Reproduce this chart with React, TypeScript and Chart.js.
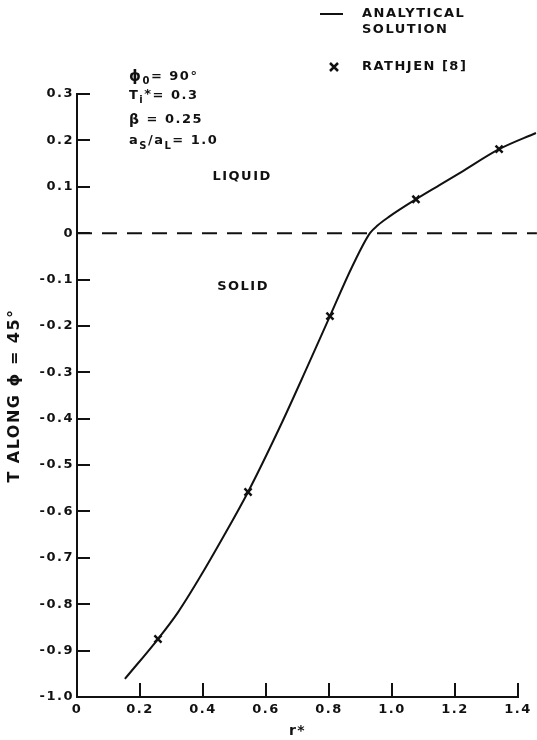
import React, { useEffect, useRef } from 'react';
import { Chart, registerables } from 'chart.js';

Chart.register(...registerables);

// ---- data ----
const curveR = [0.152, 0.257, 0.32, 0.39, 0.46, 0.543, 0.644, 0.73, 0.803, 0.873, 0.93, 0.955, 0.99, 1.076, 1.152, 1.216, 1.34, 1.457];
const curveT = [-0.961, -0.875, -0.818, -0.742, -0.66, -0.558, -0.418, -0.29, -0.179, -0.073, 0.0, 0.017, 0.035, 0.073, 0.104, 0.13, 0.181, 0.216];
const rathjenR = [0.257, 0.543, 0.803, 1.076, 1.34];
const rathjenT = [-0.875, -0.558, -0.179, 0.073, 0.181];
const interfaceR = [0, 1.46];
const interfaceT = [0, 0];

const xTickValues = [0, 0.2, 0.4, 0.6, 0.8, 1.0, 1.2, 1.4];
const xTickLabels = ['0', '0.2', '0.4', '0.6', '0.8', '1.0', '1.2', '1.4'];
const yTickValues = [-1.0, -0.9, -0.8, -0.7, -0.6, -0.5, -0.4, -0.3, -0.2, -0.1, 0, 0.1, 0.2, 0.3];
const yTickLabels = ['-1.0', '-0.9', '-0.8', '-0.7', '-0.6', '-0.5', '-0.4', '-0.3', '-0.2', '-0.1', '0', '0.1', '0.2', '0.3'];

const legendLine = ['ANALYTICAL', 'SOLUTION'];
const legendMarks = 'RATHJEN [8]';
const regionLabels = [
  { text: 'LIQUID', r: 0.43, t: 0.121 },
  { text: 'SOLID', r: 0.445, t: -0.116 },
];
const xTitle = 'r*';
const yTitle = 'T ALONG ϕ = 45°';

const INK = '#111';
const FONT = "'DejaVu Sans', 'Liberation Sans', sans-serif";
const SPACING = '1.5px';

type Seg = { text: string; size: number; dy?: number; weight?: string };

function drawRich(ctx: CanvasRenderingContext2D, x: number, y: number, segs: Seg[]) {
  let cx = x;
  for (const s of segs) {
    ctx.font = `${s.weight || 'bold'} ${s.size}px ${FONT}`;
    ctx.fillText(s.text, cx, y + (s.dy || 0));
    cx += ctx.measureText(s.text).width;
  }
}

const spacingPlugin = {
  id: 'spacing',
  beforeDraw(chart: any) {
    chart.ctx.letterSpacing = SPACING;
  },
};

const inwardTicks = {
  id: 'inwardTicks',
  afterDraw(chart: any) {
    const { ctx, chartArea, scales } = chart;
    ctx.save();
    ctx.strokeStyle = INK;
    ctx.lineWidth = 2;
    scales.y.ticks.forEach((t: any) => {
      const py = Math.round(scales.y.getPixelForValue(t.value));
      ctx.beginPath();
      ctx.moveTo(chartArea.left - 1, py);
      ctx.lineTo(chartArea.left + 13, py);
      ctx.stroke();
    });
    scales.x.ticks.forEach((t: any) => {
      if (t.value === 0) return;
      const px = Math.round(scales.x.getPixelForValue(t.value));
      ctx.beginPath();
      ctx.moveTo(px, chartArea.bottom + 1);
      ctx.lineTo(px, chartArea.bottom - 14);
      ctx.stroke();
    });
    ctx.restore();
  },
};

const annotations = {
  id: 'annotations',
  afterDraw(chart: any) {
    const { ctx, scales } = chart;
    ctx.save();
    ctx.letterSpacing = SPACING;
    ctx.fillStyle = INK;
    ctx.strokeStyle = INK;
    ctx.textBaseline = 'middle';
    ctx.textAlign = 'left';

    // legend
    ctx.lineWidth = 2;
    ctx.beginPath();
    ctx.moveTo(320, 14);
    ctx.lineTo(343, 14);
    ctx.stroke();
    ctx.font = `bold 13px ${FONT}`;
    ctx.fillText(legendLine[0], 362, 14);
    ctx.fillText(legendLine[1], 362, 30);
    ctx.lineWidth = 2.5;
    ctx.beginPath();
    ctx.moveTo(330, 63);
    ctx.lineTo(338, 71);
    ctx.moveTo(338, 63);
    ctx.lineTo(330, 71);
    ctx.stroke();
    ctx.fillText(legendMarks, 362, 67);

    // parameters
    drawRich(ctx, 129, 77, [
      { text: 'ϕ', size: 15 },
      { text: '0', size: 10, dy: 4 },
      { text: '= 90°', size: 13 },
    ]);
    drawRich(ctx, 129, 96, [
      { text: 'T', size: 13 },
      { text: 'i', size: 10, dy: 4 },
      { text: '*', size: 13, dy: -1 },
      { text: '= 0.3', size: 13 },
    ]);
    drawRich(ctx, 129, 120, [
      { text: 'β', size: 14 },
      { text: ' = 0.25', size: 13 },
    ]);
    drawRich(ctx, 129, 141, [
      { text: 'a', size: 13 },
      { text: 'S', size: 10, dy: 5 },
      { text: '/', size: 13 },
      { text: 'a', size: 13 },
      { text: 'L', size: 10, dy: 5 },
      { text: '= 1.0', size: 13 },
    ]);

    // region labels
    ctx.font = `bold 13px ${FONT}`;
    regionLabels.forEach((l) => {
      ctx.fillText(l.text, scales.x.getPixelForValue(l.r), scales.y.getPixelForValue(l.t));
    });
    ctx.restore();
  },
};

export default function App() {
  const canvasRef = useRef<HTMLCanvasElement | null>(null);

  useEffect(() => {
    if (!canvasRef.current) return;
    const chart = new Chart(canvasRef.current, {
      type: 'scatter',
      data: {
        datasets: [
          {
            label: 'Interface',
            data: interfaceR.map((r, i) => ({ x: r, y: interfaceT[i] })),
            showLine: true,
            borderColor: INK,
            borderWidth: 2,
            borderDash: [15, 10],
            pointRadius: 0,
            clip: false as any,
          },
          {
            label: 'ANALYTICAL SOLUTION',
            data: curveR.map((r, i) => ({ x: r, y: curveT[i] })),
            showLine: true,
            borderColor: INK,
            borderWidth: 2,
            pointRadius: 0,
            cubicInterpolationMode: 'monotone',
            clip: false as any,
          },
          {
            label: 'RATHJEN [8]',
            data: rathjenR.map((r, i) => ({ x: r, y: rathjenT[i] })),
            showLine: false,
            pointStyle: 'crossRot',
            pointRadius: 5,
            pointBorderWidth: 2.5,
            pointBorderColor: INK,
            borderColor: INK,
            clip: false as any,
          },
        ],
      },
      options: {
        animation: false,
        responsive: false,
        devicePixelRatio: 1,
        layout: { padding: { left: 0, top: 94, right: 19, bottom: 0 } },
        plugins: {
          legend: { display: false },
          tooltip: { enabled: false },
        },
        scales: {
          x: {
            type: 'linear',
            min: 0,
            max: 1.4,
            afterBuildTicks: (s: any) => {
              s.ticks = xTickValues.map((v) => ({ value: v }));
            },
            afterFit: (s: any) => {
              s.height = 43;
            },
            grid: { display: false, drawTicks: false },
            border: { display: true, color: INK, width: 2 },
            ticks: {
              color: INK,
              padding: 5,
              maxRotation: 0,
              autoSkip: false,
              font: { family: FONT, size: 13, weight: 'bold' },
              callback: (_v: any, i: number) => xTickLabels[i],
            },
            title: {
              display: true,
              text: xTitle,
              color: INK,
              font: { family: FONT, size: 14, weight: 'bold' },
              padding: { top: 0, bottom: 0 },
            },
          },
          y: {
            type: 'linear',
            min: -1.0,
            max: 0.3,
            afterBuildTicks: (s: any) => {
              s.ticks = yTickValues.map((v) => ({ value: v }));
            },
            afterFit: (s: any) => {
              s.width = 77;
            },
            grid: { display: false, drawTicks: false },
            border: { display: true, color: INK, width: 2 },
            ticks: {
              color: INK,
              padding: 3,
              autoSkip: false,
              font: { family: FONT, size: 13, weight: 'bold' },
              callback: (_v: any, i: number) => yTickLabels[i],
            },
            title: {
              display: true,
              text: yTitle,
              color: INK,
              font: { family: FONT, size: 16, weight: 'bold' },
              padding: { top: 5, bottom: 0 },
            },
          },
        },
      },
      plugins: [spacingPlugin, inwardTicks, annotations],
    });
    return () => chart.destroy();
  }, []);

  return (
    <div style={{ position: 'absolute', left: 0, top: 0, width: 537, height: 740, background: '#fff' }}>
      <canvas ref={canvasRef} width={537} height={740} style={{ display: 'block' }} />
    </div>
  );
}
